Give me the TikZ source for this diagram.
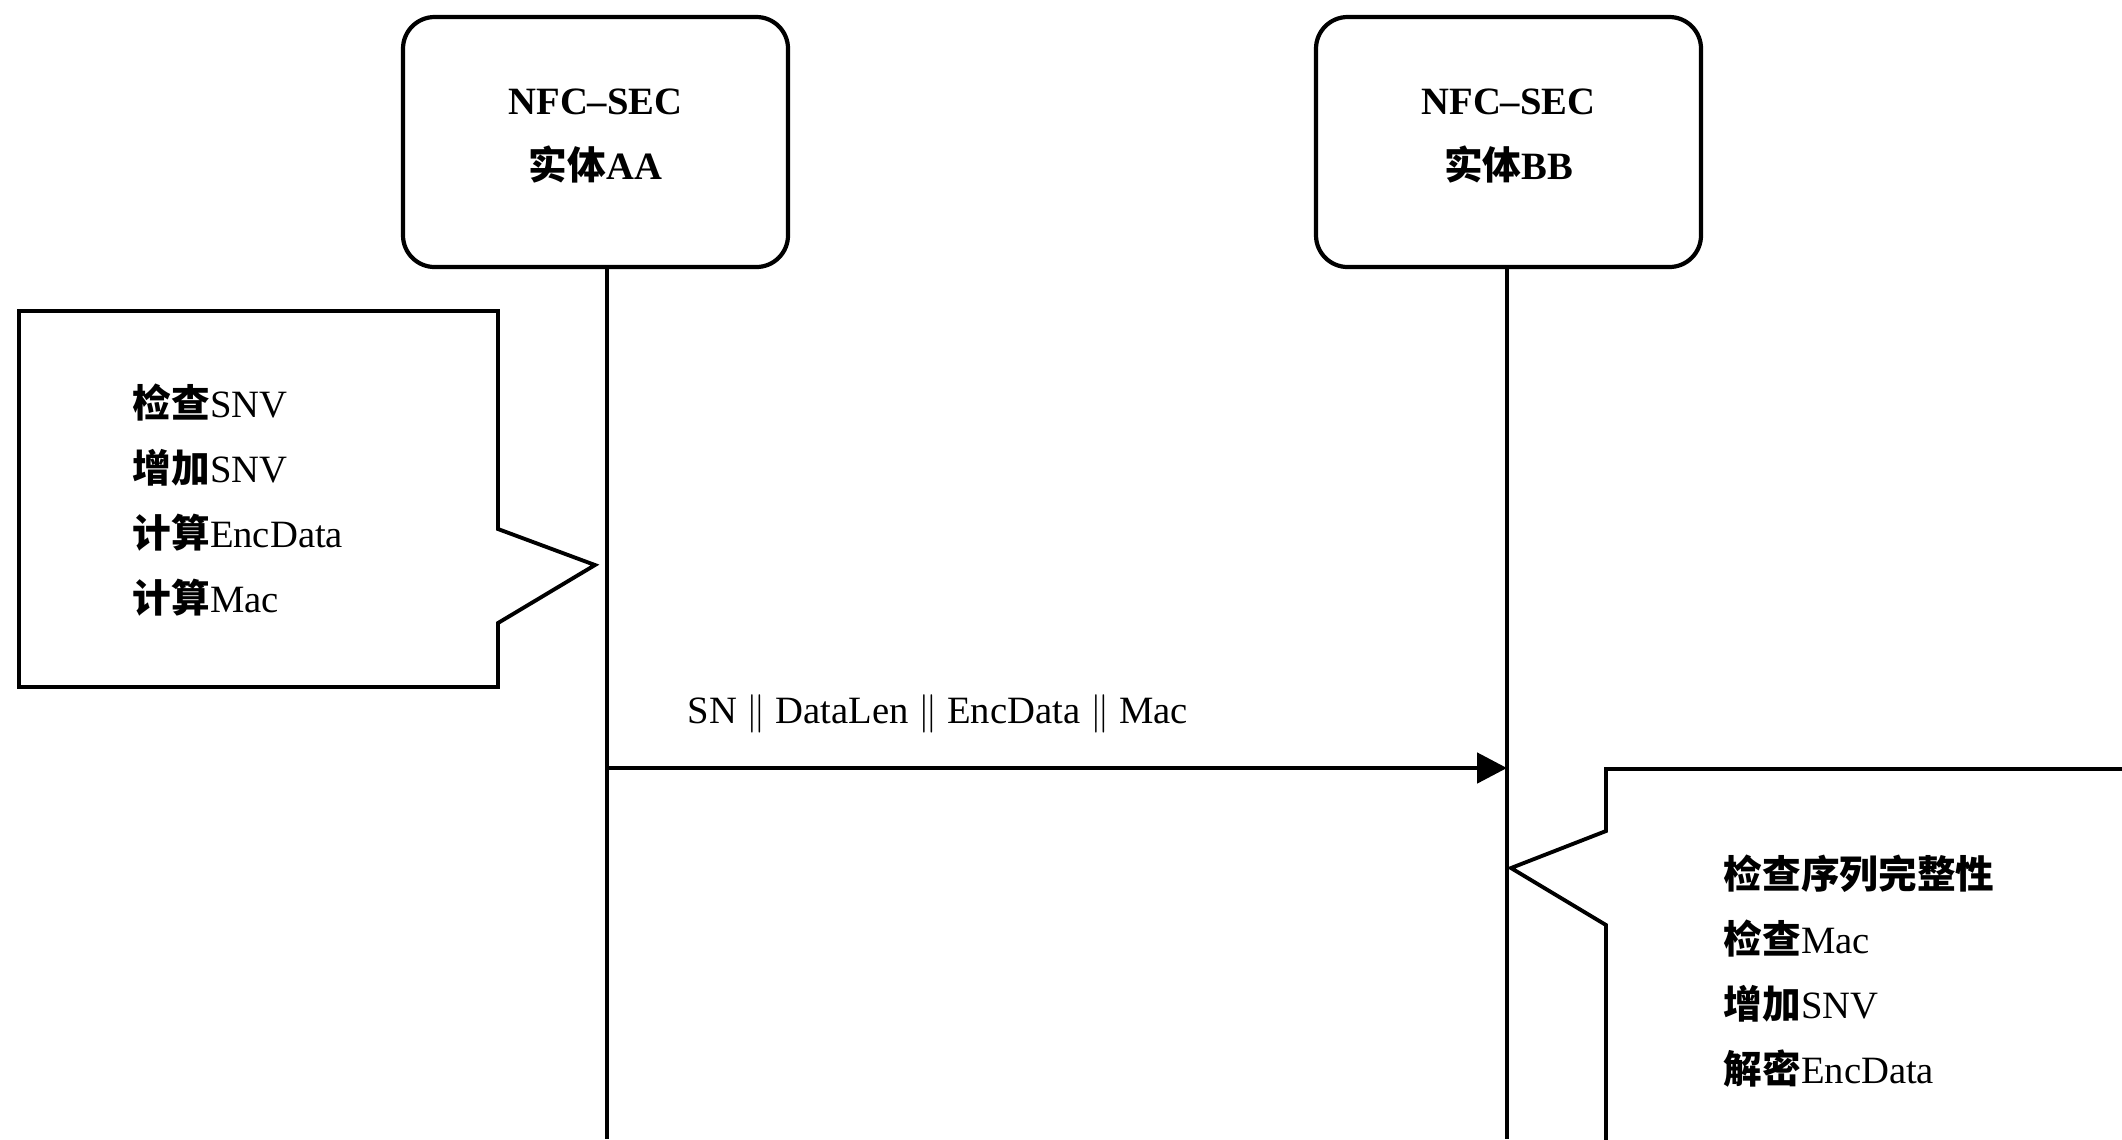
\documentclass[tikz,border=0pt]{standalone}
\usepackage{fontspec}
\setmainfont{Liberation Serif}
\newfontfamily\cjk{Noto Sans CJK SC}
\newcommand{\zh}[1]{{\cjk\bfseries #1}}
\usepackage{tikz}
\usetikzlibrary{arrows.meta,positioning,calc}

\begin{document}
\begin{tikzpicture}[
  entity/.style={draw, rounded corners=9pt, line width=1.2pt, minimum width=3.85cm, minimum height=2.5cm, align=center, font=\fontsize{11}{18.5}\selectfont\bfseries},
  life/.style={line width=1.4pt},
  msg/.style={-{Triangle[length=0.3cm, width=0.3cm]}, line width=1.4pt},
  note/.style={line width=1.1pt, line join=miter},
  notetext/.style={align=left, inner sep=0pt, font=\fontsize{11}{18.5}\selectfont},
  lbl/.style={inner sep=0pt, font=\fontsize{11}{14}\selectfont}
]
  \useasboundingbox (0,0) rectangle (21.22,-11.39);
  \clip (0,0) rectangle (21.22,-11.39);

  % entities
  \node[entity] (entA) at (5.955,-1.42) {NFC--SEC\\\zh{实体}AA\\[-14pt]};
  \node[entity] (entB) at (15.085,-1.42) {NFC--SEC\\\zh{实体}BB\\[-14pt]};

  % lifelines
  \coordinate (endA) at (6.07,-11.39);
  \coordinate (endB) at (15.07,-11.39);
  \draw[life] (entA.south -| endA) -- (endA);
  \draw[life] (entB.south -| endB) -- (endB);

  % message
  \coordinate (msgA) at (6.07,-7.68);
  \coordinate (msgB) at (15.07,-7.68);
  \draw[msg] (msgA) -- (msgB);
  \node[lbl, anchor=base west] (msgLbl) at (6.87,-7.23) {SN $\|$ DataLen $\|$ EncData $\|$ Mac};

  % sender note
  \coordinate (tipA) at (5.95,-5.65);
  \draw[note] (0.19,-3.11) -- (4.98,-3.11) -- (4.98,-5.29) -- (tipA) -- (4.98,-6.23) -- (4.98,-6.87) -- (0.19,-6.87) -- cycle;
  \node[notetext, anchor=west] (stepA) at (1.32,-5.00) {\zh{检查}SNV\\\zh{增加}SNV\\\zh{计算}EncData\\\zh{计算}Mac};

  % receiver note
  \coordinate (tipB) at (15.11,-8.68);
  \draw[note] (21.5,-7.69) -- (16.06,-7.69) -- (16.06,-8.31) -- (tipB) -- (16.06,-9.25) -- (16.06,-11.6);
  \node[notetext, anchor=west] (stepB) at (17.23,-9.71) {\zh{检查序列完整性}\\\zh{检查}Mac\\\zh{增加}SNV\\\zh{解密}EncData};
\end{tikzpicture}
\end{document}
